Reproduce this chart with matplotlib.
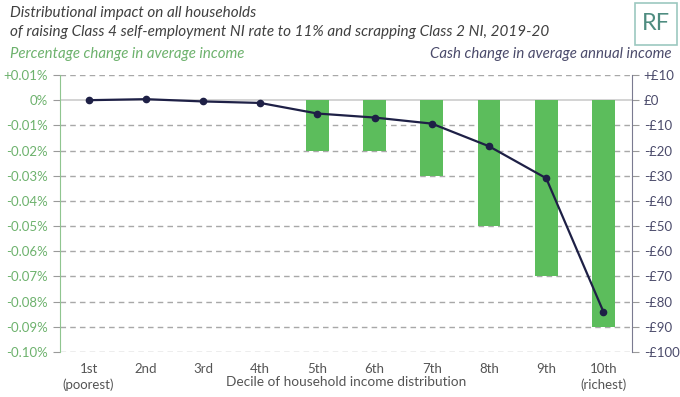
import matplotlib
matplotlib.use("Agg")
from matplotlib import pyplot as plt
from matplotlib.patches import Rectangle
from matplotlib.ticker import FuncFormatter

# data
deciles = ["1st\n(poorest)", "2nd", "3rd", "4th", "5th", "6th", "7th", "8th", "9th", "10th\n(richest)"]
pct_change = [0.0, 0.0, 0.0, 0.0, -0.02, -0.02, -0.03, -0.05, -0.07, -0.09]
cash_change = [0.0, 0.4, -0.5, -1.1, -5.3, -6.9, -9.3, -18.3, -31.0, -84.0]

GREEN = "#5cbd5c"
GREEN_TXT = "#6db26d"
NAVY = "#1e2046"
SLATE = "#4b4b6b"
GREY = "#9a9a9a"

plt.rcParams["font.family"] = ["Lato", "DejaVu Sans"]

fig = plt.figure(figsize=(6.8, 3.97), dpi=100)
ax = fig.add_axes([60/680, 1-352/397, 572/680, 277/397])
ax2 = ax.twinx()

x = list(range(len(deciles)))
ax.bar(x, pct_change, width=0.4, color=GREEN, zorder=2)
ax.set_ylim(-0.10, 0.01)
ax.set_xlim(-0.5, 9.5)
ax2.set_ylim(-100, 10)

ax.set_yticks([v/100 for v in range(-10, 2)])
def pct_fmt(v, pos):
    v = round(v, 2)
    if abs(v) < 1e-9:
        return "0%"
    s = "%.2f%%" % v
    return ("+" + s) if v > 0 else s
ax.yaxis.set_major_formatter(FuncFormatter(pct_fmt))

ax2.set_yticks(range(-100, 11, 10))
def cash_fmt(v, pos):
    v = int(round(v))
    if v == 0:
        return "£0"
    return ("+£%d" % v) if v > 0 else ("-£%d" % -v)
ax2.yaxis.set_major_formatter(FuncFormatter(cash_fmt))

# grid
for v in range(-10, 2):
    if v == 0:
        ax.axhline(0, color="#cccccc", lw=1.2, zorder=1)
    else:
        ax.axhline(v/100, color="#a8a8a8", lw=1, ls=(0, (4, 3)), zorder=1)

ax2.plot(x, cash_change, color=NAVY, lw=1.6, marker="o", ms=4.5, zorder=3)

ax.set_xticks(x)
ax.set_xticklabels(deciles, fontsize=9.5, color="#555555", linespacing=1.35)
ax.tick_params(axis="x", length=0, pad=8)
ax.tick_params(axis="y", colors=GREY, labelcolor=GREEN_TXT, labelsize=9.5, length=5, direction="out")
ax2.tick_params(axis="y", colors=GREY, labelcolor=SLATE, labelsize=9.5, length=5, direction="out")

for a in (ax, ax2):
    for s in ("top", "bottom"):
        a.spines[s].set_visible(False)
ax.spines["right"].set_visible(False)
ax2.spines["left"].set_visible(False)
ax.spines["left"].set_color("#8fc58f")
ax2.spines["right"].set_color("#7a7a90")

ax.set_xlabel("Decile of household income distribution", fontsize=9.8, color="#555555", labelpad=-11)

fig.text(10/680, 1-13/397, "Distributional impact on all households", fontsize=11, style="italic",
         color="#404040", va="center")
fig.text(10/680, 1-32/397, "of raising Class 4 self-employment NI rate to 11% and scrapping Class 2 NI, 2019-20",
         fontsize=11, style="italic", color="#404040", va="center")
fig.text(10/680, 1-54/397, "Percentage change in average income", fontsize=10.8, style="italic",
         color=GREEN_TXT, va="center")
fig.text(672/680, 1-54/397, "Cash change in average annual income", fontsize=10.8, style="italic",
         color=SLATE, va="center", ha="right")

# RF logo box
fig.patches.append(Rectangle((635/680, 1-45/397), 42/680, 42/397, transform=fig.transFigure,
                             fill=False, edgecolor="#9cc8c0", lw=1.2))
fig.text(656/680, 1-24/397, "RF", fontsize=17, color="#4e8c80", ha="center", va="center")

fig.savefig("out.png", dpi=100)
